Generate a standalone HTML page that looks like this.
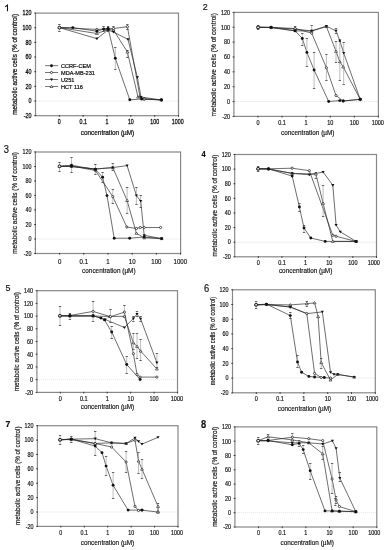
<!DOCTYPE html>
<html><head><meta charset="utf-8"><style>
html,body{margin:0;padding:0;background:#fff;width:388px;height:550px;overflow:hidden}
svg{display:block;will-change:transform}
text{font-family:"Liberation Sans", sans-serif;fill:#111;stroke:#111;stroke-width:var(--tw,0.1px)}
</style></head><body>
<svg width="388" height="550" viewBox="0 0 388 550">
<rect width="388" height="550" fill="#fff"/>
<g style="--tw:0.22px"><line x1="35.5" y1="101.04" x2="178.5" y2="101.04" stroke="#d4d4d4" stroke-width="0.6" stroke-dasharray="1.2 0.8"/>
<rect x="35.5" y="13.1" width="143" height="102.6" fill="none" stroke="#888" stroke-width="1.2"/>
<line x1="34.2" y1="115.7" x2="36.1" y2="115.7" stroke="#222" stroke-width="0.8"/>
<text transform="translate(31.6 118) scale(1 1.2)" font-size="5.4" text-anchor="end">-20</text>
<line x1="34.2" y1="101.04" x2="36.1" y2="101.04" stroke="#222" stroke-width="0.8"/>
<text transform="translate(31.6 103.34) scale(1 1.2)" font-size="5.4" text-anchor="end">0</text>
<line x1="34.2" y1="86.39" x2="36.1" y2="86.39" stroke="#222" stroke-width="0.8"/>
<text transform="translate(31.6 88.69) scale(1 1.2)" font-size="5.4" text-anchor="end">20</text>
<line x1="34.2" y1="71.73" x2="36.1" y2="71.73" stroke="#222" stroke-width="0.8"/>
<text transform="translate(31.6 74.03) scale(1 1.2)" font-size="5.4" text-anchor="end">40</text>
<line x1="34.2" y1="57.07" x2="36.1" y2="57.07" stroke="#222" stroke-width="0.8"/>
<text transform="translate(31.6 59.37) scale(1 1.2)" font-size="5.4" text-anchor="end">60</text>
<line x1="34.2" y1="42.41" x2="36.1" y2="42.41" stroke="#222" stroke-width="0.8"/>
<text transform="translate(31.6 44.71) scale(1 1.2)" font-size="5.4" text-anchor="end">80</text>
<line x1="34.2" y1="27.76" x2="36.1" y2="27.76" stroke="#222" stroke-width="0.8"/>
<text transform="translate(31.6 30.06) scale(1 1.2)" font-size="5.4" text-anchor="end">100</text>
<line x1="34.2" y1="13.1" x2="36.1" y2="13.1" stroke="#222" stroke-width="0.8"/>
<text transform="translate(31.6 15.4) scale(1 1.2)" font-size="5.4" text-anchor="end">120</text>
<line x1="59.33" y1="115.1" x2="59.33" y2="116.9" stroke="#222" stroke-width="0.8"/>
<text transform="translate(59.33 124) scale(1 1.2)" font-size="5.3" text-anchor="middle">0</text>
<line x1="83.17" y1="115.1" x2="83.17" y2="116.9" stroke="#222" stroke-width="0.8"/>
<text transform="translate(83.17 124) scale(1 1.2)" font-size="5.3" text-anchor="middle">0.1</text>
<line x1="107" y1="115.1" x2="107" y2="116.9" stroke="#222" stroke-width="0.8"/>
<text transform="translate(107 124) scale(1 1.2)" font-size="5.3" text-anchor="middle">1</text>
<line x1="130.83" y1="115.1" x2="130.83" y2="116.9" stroke="#222" stroke-width="0.8"/>
<text transform="translate(130.83 124) scale(1 1.2)" font-size="5.3" text-anchor="middle">10</text>
<line x1="154.67" y1="115.1" x2="154.67" y2="116.9" stroke="#222" stroke-width="0.8"/>
<text transform="translate(154.67 124) scale(1 1.2)" font-size="5.3" text-anchor="middle">100</text>
<line x1="178.5" y1="115.1" x2="178.5" y2="116.9" stroke="#222" stroke-width="0.8"/>
<text transform="translate(177.7 124) scale(1 1.2)" font-size="5.3" text-anchor="middle">1000</text>
<text transform="translate(107.5 135) scale(1 1.08)" font-size="6.4" text-anchor="middle">concentration (µM)</text>
<text transform="translate(17 64.4) rotate(-90) scale(1 1.15)" font-size="6.45" text-anchor="middle">metabolic active cells (% of control)</text>
<path d="M5.1 6.9L7.5 5.0V11.3" fill="none" stroke="#111" stroke-width="1.05"/>
<polyline points="59.4,27.6 72.8,27.6 96.9,31.2 103.6,29.1 108.1,28.5 115.3,58.3 129.8,99.8 141.5,99 161.4,99.8" fill="none" stroke="#2a2a2a" stroke-width="0.68" stroke-linejoin="round"/>
<polyline points="59.4,27.6 96.9,29.4 103.9,29.2 108,28.8 113.5,28.5 127.4,26.7 140,97 144.2,99 161.4,99.8" fill="none" stroke="#2a2a2a" stroke-width="0.68" stroke-linejoin="round"/>
<polyline points="59.4,27.6 96.9,38.7 108,30 113.5,32.1 128,39.4 137.4,77.3 141,97 161.4,100" fill="none" stroke="#2a2a2a" stroke-width="0.68" stroke-linejoin="round"/>
<polyline points="59.4,27.6 96.9,33.5 108,29.5 113.5,30 127.4,52 138,97 144,99 161.4,100" fill="none" stroke="#2a2a2a" stroke-width="0.68" stroke-linejoin="round"/>
<path d="M115.3 47.5V69.2" stroke="#999" stroke-width="0.65" fill="none"/><path d="M114.1 47.5H116.5M114.1 69.5H116.5" stroke="#444" stroke-width="0.8" fill="none"/>
<path d="M127.4 24.5V29" stroke="#999" stroke-width="0.65" fill="none"/><path d="M126.2 24.5H128.6M126.2 29.5H128.6" stroke="#444" stroke-width="0.8" fill="none"/>
<path d="M127.4 50V57.4" stroke="#999" stroke-width="0.65" fill="none"/><path d="M126.2 50.5H128.6M126.2 57.5H128.6" stroke="#444" stroke-width="0.8" fill="none"/>
<path d="M103.6 26.5V31" stroke="#999" stroke-width="0.65" fill="none"/><path d="M102.4 26.5H104.8M102.4 31.5H104.8" stroke="#444" stroke-width="0.8" fill="none"/>
<path d="M108.1 26V31" stroke="#999" stroke-width="0.65" fill="none"/><path d="M106.9 26.5H109.3M106.9 31.5H109.3" stroke="#444" stroke-width="0.8" fill="none"/>
<path d="M113.5 26V30" stroke="#999" stroke-width="0.65" fill="none"/><path d="M112.3 26.5H114.7M112.3 30.5H114.7" stroke="#444" stroke-width="0.8" fill="none"/>
<path d="M59.4 24.2V31.3" stroke="#999" stroke-width="0.65" fill="none"/><path d="M58.2 24.5H60.6M58.2 31.5H60.6" stroke="#444" stroke-width="0.8" fill="none"/>
<path d="M57.95 28.62H60.85L59.4 26.3Z" fill="#fff" stroke="#111" stroke-width="0.6"/>
<path d="M95.45 34.52H98.35L96.9 32.2Z" fill="#fff" stroke="#111" stroke-width="0.6"/>
<path d="M106.55 30.52H109.45L108 28.2Z" fill="#fff" stroke="#111" stroke-width="0.6"/>
<path d="M112.05 31.02H114.95L113.5 28.7Z" fill="#fff" stroke="#111" stroke-width="0.6"/>
<path d="M125.95 53.02H128.85L127.4 50.7Z" fill="#fff" stroke="#111" stroke-width="0.6"/>
<path d="M136.55 98.02H139.45L138 95.69Z" fill="#fff" stroke="#111" stroke-width="0.6"/>
<path d="M142.55 100.02H145.45L144 97.69Z" fill="#fff" stroke="#111" stroke-width="0.6"/>
<path d="M159.95 101.02H162.85L161.4 98.69Z" fill="#fff" stroke="#111" stroke-width="0.6"/>
<circle cx="59.4" cy="27.6" r="1.1" fill="#fff" stroke="#111" stroke-width="0.7"/>
<circle cx="96.9" cy="29.4" r="1.1" fill="#fff" stroke="#111" stroke-width="0.7"/>
<circle cx="103.9" cy="29.2" r="1.1" fill="#fff" stroke="#111" stroke-width="0.7"/>
<circle cx="108" cy="28.8" r="1.1" fill="#fff" stroke="#111" stroke-width="0.7"/>
<circle cx="113.5" cy="28.5" r="1.1" fill="#fff" stroke="#111" stroke-width="0.7"/>
<circle cx="127.4" cy="26.7" r="1.1" fill="#fff" stroke="#111" stroke-width="0.7"/>
<circle cx="140" cy="97" r="1.1" fill="#fff" stroke="#111" stroke-width="0.7"/>
<circle cx="144.2" cy="99" r="1.1" fill="#fff" stroke="#111" stroke-width="0.7"/>
<circle cx="161.4" cy="99.8" r="1.1" fill="#fff" stroke="#111" stroke-width="0.7"/>
<path d="M57.8 26.48H60.99L59.4 29.04Z" fill="#111"/>
<path d="M95.31 37.58H98.5L96.9 40.14Z" fill="#111"/>
<path d="M106.41 28.88H109.59L108 31.44Z" fill="#111"/>
<path d="M111.91 30.98H115.09L113.5 33.54Z" fill="#111"/>
<path d="M126.41 38.28H129.59L128 40.84Z" fill="#111"/>
<path d="M135.81 76.18H139L137.4 78.74Z" fill="#111"/>
<path d="M139.41 95.88H142.59L141 98.44Z" fill="#111"/>
<path d="M159.81 98.88H163L161.4 101.44Z" fill="#111"/>
<circle cx="59.4" cy="27.6" r="1.45" fill="#111"/>
<circle cx="72.8" cy="27.6" r="1.45" fill="#111"/>
<circle cx="96.9" cy="31.2" r="1.45" fill="#111"/>
<circle cx="103.6" cy="29.1" r="1.45" fill="#111"/>
<circle cx="108.1" cy="28.5" r="1.45" fill="#111"/>
<circle cx="115.3" cy="58.3" r="1.45" fill="#111"/>
<circle cx="129.8" cy="99.8" r="1.45" fill="#111"/>
<circle cx="141.5" cy="99" r="1.45" fill="#111"/>
<circle cx="161.4" cy="99.8" r="1.45" fill="#111"/>
<circle cx="59.4" cy="27.6" r="1.35" fill="#fff" stroke="#222" stroke-width="0.95"/>
<line x1="45" y1="65.7" x2="58.1" y2="65.7" stroke="#666" stroke-width="0.9"/>
<circle cx="51.5" cy="65.7" r="1.45" fill="#111"/>
<text transform="translate(61 67.8) scale(1 1.12)" font-size="5.6">CCRF-CEM</text>
<line x1="45" y1="72.5" x2="58.1" y2="72.5" stroke="#666" stroke-width="0.9"/>
<circle cx="51.5" cy="72.5" r="1.1" fill="#fff" stroke="#111" stroke-width="0.7"/>
<text transform="translate(61 74.6) scale(1 1.12)" font-size="5.6">MDA-MB-231</text>
<line x1="45" y1="79.5" x2="58.1" y2="79.5" stroke="#666" stroke-width="0.9"/>
<path d="M49.91 78.38H53.09L51.5 80.94Z" fill="#111"/>
<text transform="translate(61 81.6) scale(1 1.12)" font-size="5.6">U251</text>
<line x1="45" y1="86.5" x2="58.1" y2="86.5" stroke="#666" stroke-width="0.9"/>
<path d="M50.05 87.52H52.95L51.5 85.19Z" fill="#fff" stroke="#111" stroke-width="0.6"/>
<text transform="translate(61 88.6) scale(1 1.12)" font-size="5.6">HCT 116</text></g>
<g style="--tw:0.15px"><line x1="233.9" y1="101.54" x2="378.4" y2="101.54" stroke="#d4d4d4" stroke-width="0.6" stroke-dasharray="1.2 0.8"/>
<rect x="233.9" y="12.4" width="144.5" height="104" fill="none" stroke="#888" stroke-width="1.2"/>
<line x1="232.6" y1="116.4" x2="234.5" y2="116.4" stroke="#222" stroke-width="0.8"/>
<text transform="translate(230 118.7) scale(1 1.2)" font-size="5.4" text-anchor="end">-20</text>
<line x1="232.6" y1="101.54" x2="234.5" y2="101.54" stroke="#222" stroke-width="0.8"/>
<text transform="translate(230 103.84) scale(1 1.2)" font-size="5.4" text-anchor="end">0</text>
<line x1="232.6" y1="86.69" x2="234.5" y2="86.69" stroke="#222" stroke-width="0.8"/>
<text transform="translate(230 88.99) scale(1 1.2)" font-size="5.4" text-anchor="end">20</text>
<line x1="232.6" y1="71.83" x2="234.5" y2="71.83" stroke="#222" stroke-width="0.8"/>
<text transform="translate(230 74.13) scale(1 1.2)" font-size="5.4" text-anchor="end">40</text>
<line x1="232.6" y1="56.97" x2="234.5" y2="56.97" stroke="#222" stroke-width="0.8"/>
<text transform="translate(230 59.27) scale(1 1.2)" font-size="5.4" text-anchor="end">60</text>
<line x1="232.6" y1="42.11" x2="234.5" y2="42.11" stroke="#222" stroke-width="0.8"/>
<text transform="translate(230 44.41) scale(1 1.2)" font-size="5.4" text-anchor="end">80</text>
<line x1="232.6" y1="27.26" x2="234.5" y2="27.26" stroke="#222" stroke-width="0.8"/>
<text transform="translate(230 29.56) scale(1 1.2)" font-size="5.4" text-anchor="end">100</text>
<line x1="232.6" y1="12.4" x2="234.5" y2="12.4" stroke="#222" stroke-width="0.8"/>
<text transform="translate(230 14.7) scale(1 1.2)" font-size="5.4" text-anchor="end">120</text>
<line x1="257.98" y1="115.8" x2="257.98" y2="117.6" stroke="#222" stroke-width="0.8"/>
<text transform="translate(257.98 125.3) scale(1 1.2)" font-size="5.5" text-anchor="middle">0</text>
<line x1="282.07" y1="115.8" x2="282.07" y2="117.6" stroke="#222" stroke-width="0.8"/>
<text transform="translate(282.07 125.3) scale(1 1.2)" font-size="5.5" text-anchor="middle">0.1</text>
<line x1="306.15" y1="115.8" x2="306.15" y2="117.6" stroke="#222" stroke-width="0.8"/>
<text transform="translate(306.15 125.3) scale(1 1.2)" font-size="5.5" text-anchor="middle">1</text>
<line x1="330.23" y1="115.8" x2="330.23" y2="117.6" stroke="#222" stroke-width="0.8"/>
<text transform="translate(330.23 125.3) scale(1 1.2)" font-size="5.5" text-anchor="middle">10</text>
<line x1="354.32" y1="115.8" x2="354.32" y2="117.6" stroke="#222" stroke-width="0.8"/>
<text transform="translate(354.32 125.3) scale(1 1.2)" font-size="5.5" text-anchor="middle">100</text>
<line x1="378.4" y1="115.8" x2="378.4" y2="117.6" stroke="#222" stroke-width="0.8"/>
<text transform="translate(377.8 125.3) scale(1 1.2)" font-size="5.5" text-anchor="middle">1000</text>
<text transform="translate(307.7 135.3) scale(1 1.08)" font-size="6.4" text-anchor="middle">concentration (µM)</text>
<text transform="translate(216.4 64.7) rotate(-90) scale(1 1.15)" font-size="6.6" text-anchor="middle">metabolic active cells (% of control)</text>
<text transform="translate(202.8 10) scale(1 1.1)" font-size="9">2</text>
<polyline points="258.1,27.3 271.1,27.3 295.1,30.9 302.3,38.5 306.9,52.4 314.1,70 328.7,101.5 339.8,100.6 343.2,101 360.2,99.3" fill="none" stroke="#2a2a2a" stroke-width="0.68" stroke-linejoin="round"/>
<polyline points="258.1,27.3 271.1,27.5 295.1,28.5 311.7,33.2 326.4,67.8 336,95.5 343.2,101 360.2,99.3" fill="none" stroke="#2a2a2a" stroke-width="0.68" stroke-linejoin="round"/>
<polyline points="258.1,27.3 271.1,27.5 295.1,30.9 311.7,30.9 326.4,26.2 336,30.9 339.8,40.6 343.7,53 360.2,99.3" fill="none" stroke="#2a2a2a" stroke-width="0.68" stroke-linejoin="round"/>
<polyline points="258.1,27.3 271.1,27.5 295.1,29 311.7,31 326.4,26.5 336,51.3 339.8,61.7 343.2,66.9 360.2,99.3" fill="none" stroke="#2a2a2a" stroke-width="0.68" stroke-linejoin="round"/>
<path d="M302.3 33V45.7" stroke="#999" stroke-width="0.65" fill="none"/><path d="M301.1 33.5H303.5M301.1 45.5H303.5" stroke="#444" stroke-width="0.8" fill="none"/>
<path d="M306.9 38.5V66.4" stroke="#999" stroke-width="0.65" fill="none"/><path d="M305.7 38.5H308.1M305.7 66.5H308.1" stroke="#444" stroke-width="0.8" fill="none"/>
<path d="M314.1 52V88.1" stroke="#999" stroke-width="0.65" fill="none"/><path d="M312.9 52.5H315.3M312.9 88.5H315.3" stroke="#444" stroke-width="0.8" fill="none"/>
<path d="M326.4 54.8V80.7" stroke="#999" stroke-width="0.65" fill="none"/><path d="M325.2 54.5H327.6M325.2 80.5H327.6" stroke="#444" stroke-width="0.8" fill="none"/>
<path d="M311.7 25.7V31" stroke="#999" stroke-width="0.65" fill="none"/><path d="M310.5 25.5H312.9M310.5 31.5H312.9" stroke="#444" stroke-width="0.8" fill="none"/>
<path d="M336 28V33" stroke="#999" stroke-width="0.65" fill="none"/><path d="M334.8 28.5H337.2M334.8 33.5H337.2" stroke="#444" stroke-width="0.8" fill="none"/>
<path d="M343.7 42.7V84.2" stroke="#999" stroke-width="0.65" fill="none"/><path d="M342.5 42.5H344.9M342.5 84.5H344.9" stroke="#444" stroke-width="0.8" fill="none"/>
<path d="M336 41V62.6" stroke="#999" stroke-width="0.65" fill="none"/><path d="M334.8 41.5H337.2M334.8 62.5H337.2" stroke="#444" stroke-width="0.8" fill="none"/>
<path d="M339.8 41V80.7" stroke="#999" stroke-width="0.65" fill="none"/><path d="M338.6 41.5H341M338.6 80.5H341" stroke="#444" stroke-width="0.8" fill="none"/>
<path d="M295.1 26V31" stroke="#999" stroke-width="0.65" fill="none"/><path d="M293.9 26.5H296.3M293.9 31.5H296.3" stroke="#444" stroke-width="0.8" fill="none"/>
<path d="M258.1 25V29.5" stroke="#999" stroke-width="0.65" fill="none"/><path d="M256.9 25.5H259.3M256.9 29.5H259.3" stroke="#444" stroke-width="0.8" fill="none"/>
<path d="M256.65 28.32H259.55L258.1 26Z" fill="#fff" stroke="#111" stroke-width="0.6"/>
<path d="M269.65 28.52H272.55L271.1 26.2Z" fill="#fff" stroke="#111" stroke-width="0.6"/>
<path d="M293.65 30.02H296.55L295.1 27.7Z" fill="#fff" stroke="#111" stroke-width="0.6"/>
<path d="M310.25 32.02H313.15L311.7 29.7Z" fill="#fff" stroke="#111" stroke-width="0.6"/>
<path d="M324.95 27.52H327.85L326.4 25.2Z" fill="#fff" stroke="#111" stroke-width="0.6"/>
<path d="M334.55 52.31H337.45L336 49.99Z" fill="#fff" stroke="#111" stroke-width="0.6"/>
<path d="M338.35 62.72H341.25L339.8 60.4Z" fill="#fff" stroke="#111" stroke-width="0.6"/>
<path d="M341.75 67.92H344.65L343.2 65.59Z" fill="#fff" stroke="#111" stroke-width="0.6"/>
<path d="M358.75 100.31H361.65L360.2 97.99Z" fill="#fff" stroke="#111" stroke-width="0.6"/>
<circle cx="258.1" cy="27.3" r="1.1" fill="#fff" stroke="#111" stroke-width="0.7"/>
<circle cx="271.1" cy="27.5" r="1.1" fill="#fff" stroke="#111" stroke-width="0.7"/>
<circle cx="295.1" cy="28.5" r="1.1" fill="#fff" stroke="#111" stroke-width="0.7"/>
<circle cx="311.7" cy="33.2" r="1.1" fill="#fff" stroke="#111" stroke-width="0.7"/>
<circle cx="326.4" cy="67.8" r="1.1" fill="#fff" stroke="#111" stroke-width="0.7"/>
<circle cx="336" cy="95.5" r="1.1" fill="#fff" stroke="#111" stroke-width="0.7"/>
<circle cx="343.2" cy="101" r="1.1" fill="#fff" stroke="#111" stroke-width="0.7"/>
<circle cx="360.2" cy="99.3" r="1.1" fill="#fff" stroke="#111" stroke-width="0.7"/>
<path d="M256.5 26.18H259.7L258.1 28.74Z" fill="#111"/>
<path d="M269.5 26.38H272.7L271.1 28.94Z" fill="#111"/>
<path d="M293.5 29.78H296.7L295.1 32.34Z" fill="#111"/>
<path d="M310.1 29.78H313.3L311.7 32.34Z" fill="#111"/>
<path d="M324.8 25.08H328L326.4 27.64Z" fill="#111"/>
<path d="M334.4 29.78H337.6L336 32.34Z" fill="#111"/>
<path d="M338.2 39.48H341.4L339.8 42.04Z" fill="#111"/>
<path d="M342.1 51.88H345.3L343.7 54.44Z" fill="#111"/>
<path d="M358.6 98.18H361.8L360.2 100.74Z" fill="#111"/>
<circle cx="258.1" cy="27.3" r="1.45" fill="#111"/>
<circle cx="271.1" cy="27.3" r="1.45" fill="#111"/>
<circle cx="295.1" cy="30.9" r="1.45" fill="#111"/>
<circle cx="302.3" cy="38.5" r="1.45" fill="#111"/>
<circle cx="306.9" cy="52.4" r="1.45" fill="#111"/>
<circle cx="314.1" cy="70" r="1.45" fill="#111"/>
<circle cx="328.7" cy="101.5" r="1.45" fill="#111"/>
<circle cx="339.8" cy="100.6" r="1.45" fill="#111"/>
<circle cx="343.2" cy="101" r="1.45" fill="#111"/>
<circle cx="360.2" cy="99.3" r="1.45" fill="#111"/>
<circle cx="258.1" cy="27.3" r="1.35" fill="#fff" stroke="#222" stroke-width="0.95"/></g>
<g style="--tw:0.15px"><line x1="35.4" y1="239" x2="180.6" y2="239" stroke="#d4d4d4" stroke-width="0.6" stroke-dasharray="1.2 0.8"/>
<rect x="35.4" y="152" width="145.2" height="101.5" fill="none" stroke="#888" stroke-width="1.2"/>
<line x1="34.1" y1="253.5" x2="36" y2="253.5" stroke="#222" stroke-width="0.8"/>
<text transform="translate(31.5 255.8) scale(1 1.2)" font-size="5.4" text-anchor="end">-20</text>
<line x1="34.1" y1="239" x2="36" y2="239" stroke="#222" stroke-width="0.8"/>
<text transform="translate(31.5 241.3) scale(1 1.2)" font-size="5.4" text-anchor="end">0</text>
<line x1="34.1" y1="224.5" x2="36" y2="224.5" stroke="#222" stroke-width="0.8"/>
<text transform="translate(31.5 226.8) scale(1 1.2)" font-size="5.4" text-anchor="end">20</text>
<line x1="34.1" y1="210" x2="36" y2="210" stroke="#222" stroke-width="0.8"/>
<text transform="translate(31.5 212.3) scale(1 1.2)" font-size="5.4" text-anchor="end">40</text>
<line x1="34.1" y1="195.5" x2="36" y2="195.5" stroke="#222" stroke-width="0.8"/>
<text transform="translate(31.5 197.8) scale(1 1.2)" font-size="5.4" text-anchor="end">60</text>
<line x1="34.1" y1="181" x2="36" y2="181" stroke="#222" stroke-width="0.8"/>
<text transform="translate(31.5 183.3) scale(1 1.2)" font-size="5.4" text-anchor="end">80</text>
<line x1="34.1" y1="166.5" x2="36" y2="166.5" stroke="#222" stroke-width="0.8"/>
<text transform="translate(31.5 168.8) scale(1 1.2)" font-size="5.4" text-anchor="end">100</text>
<line x1="34.1" y1="152" x2="36" y2="152" stroke="#222" stroke-width="0.8"/>
<text transform="translate(31.5 154.3) scale(1 1.2)" font-size="5.4" text-anchor="end">120</text>
<line x1="59.6" y1="252.9" x2="59.6" y2="254.7" stroke="#222" stroke-width="0.8"/>
<text transform="translate(59.6 263.9) scale(1 1.2)" font-size="6.1" text-anchor="middle">0</text>
<line x1="83.8" y1="252.9" x2="83.8" y2="254.7" stroke="#222" stroke-width="0.8"/>
<text transform="translate(83.8 263.9) scale(1 1.2)" font-size="6.1" text-anchor="middle">0.1</text>
<line x1="108" y1="252.9" x2="108" y2="254.7" stroke="#222" stroke-width="0.8"/>
<text transform="translate(108 263.9) scale(1 1.2)" font-size="6.1" text-anchor="middle">1</text>
<line x1="132.2" y1="252.9" x2="132.2" y2="254.7" stroke="#222" stroke-width="0.8"/>
<text transform="translate(132.2 263.9) scale(1 1.2)" font-size="6.1" text-anchor="middle">10</text>
<line x1="156.4" y1="252.9" x2="156.4" y2="254.7" stroke="#222" stroke-width="0.8"/>
<text transform="translate(156.4 263.9) scale(1 1.2)" font-size="6.1" text-anchor="middle">100</text>
<line x1="180.6" y1="252.9" x2="180.6" y2="254.7" stroke="#222" stroke-width="0.8"/>
<text transform="translate(180.3 263.9) scale(1 1.2)" font-size="6.1" text-anchor="middle">1000</text>
<text transform="translate(108.8 273) scale(1 1.08)" font-size="6.4" text-anchor="middle">concentration (µM)</text>
<text transform="translate(16.9 202.9) rotate(-90) scale(1 1.15)" font-size="6.5" text-anchor="middle">metabolic active cells (% of control)</text>
<text transform="translate(3.8 152.6) scale(1 1.1)" font-size="9.3">3</text>
<polyline points="59.5,166.3 71.5,165.2 95.4,169.5 102.6,177.2 107,195.6 114.2,238.2 129.7,238.2 144.2,237 161.6,238.6" fill="none" stroke="#2a2a2a" stroke-width="0.68" stroke-linejoin="round"/>
<polyline points="59.5,166.3 71.5,166 95.4,170.5 112.8,196.6 126.8,227 136.4,228.5 140.3,227.5 144.2,227.5 160.6,227.5" fill="none" stroke="#2a2a2a" stroke-width="0.68" stroke-linejoin="round"/>
<polyline points="59.5,166.3 71.5,166.5 95.4,169 112.8,167.6 127.1,200.5 136.4,233.3 144.2,237.8 161.6,238.6" fill="none" stroke="#2a2a2a" stroke-width="0.68" stroke-linejoin="round"/>
<polyline points="59.5,166.3 71.5,166.5 95.4,169 112.8,167.6 127.1,165.6 136.4,195.6 140.7,201 144.2,235.3 161.6,238.6" fill="none" stroke="#2a2a2a" stroke-width="0.68" stroke-linejoin="round"/>
<path d="M71.5 157.6V172.7" stroke="#999" stroke-width="0.65" fill="none"/><path d="M70.3 157.5H72.7M70.3 172.5H72.7" stroke="#444" stroke-width="0.8" fill="none"/>
<path d="M102.6 172.4V182" stroke="#999" stroke-width="0.65" fill="none"/><path d="M101.4 172.5H103.8M101.4 182.5H103.8" stroke="#444" stroke-width="0.8" fill="none"/>
<path d="M112.8 189.8V203.4" stroke="#999" stroke-width="0.65" fill="none"/><path d="M111.6 189.5H114M111.6 203.5H114" stroke="#444" stroke-width="0.8" fill="none"/>
<path d="M112.8 163.7V170.5" stroke="#999" stroke-width="0.65" fill="none"/><path d="M111.6 163.5H114M111.6 170.5H114" stroke="#444" stroke-width="0.8" fill="none"/>
<path d="M127.1 187V213" stroke="#999" stroke-width="0.65" fill="none"/><path d="M125.9 187.5H128.3M125.9 213.5H128.3" stroke="#444" stroke-width="0.8" fill="none"/>
<path d="M136.4 187V204.3" stroke="#999" stroke-width="0.65" fill="none"/><path d="M135.2 187.5H137.6M135.2 204.5H137.6" stroke="#444" stroke-width="0.8" fill="none"/>
<path d="M140.7 195.6V207.2" stroke="#999" stroke-width="0.65" fill="none"/><path d="M139.5 195.5H141.9M139.5 207.5H141.9" stroke="#444" stroke-width="0.8" fill="none"/>
<path d="M95.4 164V174" stroke="#999" stroke-width="0.65" fill="none"/><path d="M94.2 164.5H96.6M94.2 174.5H96.6" stroke="#444" stroke-width="0.8" fill="none"/>
<path d="M59.5 162V171" stroke="#999" stroke-width="0.65" fill="none"/><path d="M58.3 162.5H60.7M58.3 171.5H60.7" stroke="#444" stroke-width="0.8" fill="none"/>
<path d="M58.05 167.31H60.95L59.5 165Z" fill="#fff" stroke="#111" stroke-width="0.6"/>
<path d="M70.05 167.51H72.95L71.5 165.19Z" fill="#fff" stroke="#111" stroke-width="0.6"/>
<path d="M93.95 170.01H96.85L95.4 167.69Z" fill="#fff" stroke="#111" stroke-width="0.6"/>
<path d="M111.35 168.61H114.25L112.8 166.29Z" fill="#fff" stroke="#111" stroke-width="0.6"/>
<path d="M125.65 201.51H128.55L127.1 199.19Z" fill="#fff" stroke="#111" stroke-width="0.6"/>
<path d="M134.95 234.31H137.85L136.4 232Z" fill="#fff" stroke="#111" stroke-width="0.6"/>
<path d="M142.75 238.81H145.65L144.2 236.5Z" fill="#fff" stroke="#111" stroke-width="0.6"/>
<path d="M160.15 239.61H163.05L161.6 237.29Z" fill="#fff" stroke="#111" stroke-width="0.6"/>
<circle cx="59.5" cy="166.3" r="1.1" fill="#fff" stroke="#111" stroke-width="0.7"/>
<circle cx="71.5" cy="166" r="1.1" fill="#fff" stroke="#111" stroke-width="0.7"/>
<circle cx="95.4" cy="170.5" r="1.1" fill="#fff" stroke="#111" stroke-width="0.7"/>
<circle cx="112.8" cy="196.6" r="1.1" fill="#fff" stroke="#111" stroke-width="0.7"/>
<circle cx="126.8" cy="227" r="1.1" fill="#fff" stroke="#111" stroke-width="0.7"/>
<circle cx="136.4" cy="228.5" r="1.1" fill="#fff" stroke="#111" stroke-width="0.7"/>
<circle cx="140.3" cy="227.5" r="1.1" fill="#fff" stroke="#111" stroke-width="0.7"/>
<circle cx="144.2" cy="227.5" r="1.1" fill="#fff" stroke="#111" stroke-width="0.7"/>
<circle cx="160.6" cy="227.5" r="1.1" fill="#fff" stroke="#111" stroke-width="0.7"/>
<path d="M57.91 165.18H61.09L59.5 167.74Z" fill="#111"/>
<path d="M69.91 165.38H73.09L71.5 167.94Z" fill="#111"/>
<path d="M93.81 167.88H97L95.4 170.44Z" fill="#111"/>
<path d="M111.2 166.48H114.39L112.8 169.04Z" fill="#111"/>
<path d="M125.5 164.48H128.69L127.1 167.04Z" fill="#111"/>
<path d="M134.81 194.48H138L136.4 197.04Z" fill="#111"/>
<path d="M139.1 199.88H142.29L140.7 202.44Z" fill="#111"/>
<path d="M142.6 234.18H145.79L144.2 236.74Z" fill="#111"/>
<path d="M160 237.48H163.19L161.6 240.04Z" fill="#111"/>
<circle cx="59.5" cy="166.3" r="1.45" fill="#111"/>
<circle cx="71.5" cy="165.2" r="1.45" fill="#111"/>
<circle cx="95.4" cy="169.5" r="1.45" fill="#111"/>
<circle cx="102.6" cy="177.2" r="1.45" fill="#111"/>
<circle cx="107" cy="195.6" r="1.45" fill="#111"/>
<circle cx="114.2" cy="238.2" r="1.45" fill="#111"/>
<circle cx="129.7" cy="238.2" r="1.45" fill="#111"/>
<circle cx="144.2" cy="237" r="1.45" fill="#111"/>
<circle cx="161.6" cy="238.6" r="1.45" fill="#111"/>
<circle cx="59.5" cy="166.3" r="1.35" fill="#fff" stroke="#222" stroke-width="0.95"/></g>
<g style="--tw:0.15px"><line x1="234.7" y1="242.19" x2="376.5" y2="242.19" stroke="#d4d4d4" stroke-width="0.6" stroke-dasharray="1.2 0.8"/>
<rect x="234.7" y="154.5" width="141.8" height="102.3" fill="none" stroke="#888" stroke-width="1.2"/>
<line x1="233.4" y1="256.8" x2="235.3" y2="256.8" stroke="#222" stroke-width="0.8"/>
<text transform="translate(230.8 259.1) scale(1 1.2)" font-size="5.4" text-anchor="end">-20</text>
<line x1="233.4" y1="242.19" x2="235.3" y2="242.19" stroke="#222" stroke-width="0.8"/>
<text transform="translate(230.8 244.49) scale(1 1.2)" font-size="5.4" text-anchor="end">0</text>
<line x1="233.4" y1="227.57" x2="235.3" y2="227.57" stroke="#222" stroke-width="0.8"/>
<text transform="translate(230.8 229.87) scale(1 1.2)" font-size="5.4" text-anchor="end">20</text>
<line x1="233.4" y1="212.96" x2="235.3" y2="212.96" stroke="#222" stroke-width="0.8"/>
<text transform="translate(230.8 215.26) scale(1 1.2)" font-size="5.4" text-anchor="end">40</text>
<line x1="233.4" y1="198.34" x2="235.3" y2="198.34" stroke="#222" stroke-width="0.8"/>
<text transform="translate(230.8 200.64) scale(1 1.2)" font-size="5.4" text-anchor="end">60</text>
<line x1="233.4" y1="183.73" x2="235.3" y2="183.73" stroke="#222" stroke-width="0.8"/>
<text transform="translate(230.8 186.03) scale(1 1.2)" font-size="5.4" text-anchor="end">80</text>
<line x1="233.4" y1="169.11" x2="235.3" y2="169.11" stroke="#222" stroke-width="0.8"/>
<text transform="translate(230.8 171.41) scale(1 1.2)" font-size="5.4" text-anchor="end">100</text>
<line x1="233.4" y1="154.5" x2="235.3" y2="154.5" stroke="#222" stroke-width="0.8"/>
<text transform="translate(230.8 156.8) scale(1 1.2)" font-size="5.4" text-anchor="end">120</text>
<line x1="258.33" y1="256.2" x2="258.33" y2="258" stroke="#222" stroke-width="0.8"/>
<text transform="translate(258.33 264.8) scale(1 1.2)" font-size="5.5" text-anchor="middle">0</text>
<line x1="281.97" y1="256.2" x2="281.97" y2="258" stroke="#222" stroke-width="0.8"/>
<text transform="translate(281.97 264.8) scale(1 1.2)" font-size="5.5" text-anchor="middle">0.1</text>
<line x1="305.6" y1="256.2" x2="305.6" y2="258" stroke="#222" stroke-width="0.8"/>
<text transform="translate(305.6 264.8) scale(1 1.2)" font-size="5.5" text-anchor="middle">1</text>
<line x1="329.23" y1="256.2" x2="329.23" y2="258" stroke="#222" stroke-width="0.8"/>
<text transform="translate(329.23 264.8) scale(1 1.2)" font-size="5.5" text-anchor="middle">10</text>
<line x1="352.87" y1="256.2" x2="352.87" y2="258" stroke="#222" stroke-width="0.8"/>
<text transform="translate(352.87 264.8) scale(1 1.2)" font-size="5.5" text-anchor="middle">100</text>
<line x1="376.5" y1="256.2" x2="376.5" y2="258" stroke="#222" stroke-width="0.8"/>
<text transform="translate(373.8 264.8) scale(1 1.2)" font-size="5.5" text-anchor="middle">1000</text>
<text transform="translate(305.6 273.2) scale(1 1.08)" font-size="6.4" text-anchor="middle">concentration (µM)</text>
<text transform="translate(217 205.5) rotate(-90) scale(1 1.15)" font-size="6.5" text-anchor="middle">metabolic active cells (% of control)</text>
<text transform="translate(201.6 156.7) scale(1 1.1)" font-size="7.6" font-weight="bold">4</text>
<polyline points="258.1,168.8 268.5,168.8 292.2,176.1 299.4,207 304,228 310.8,238 325.2,241.4 356.1,241.4" fill="none" stroke="#2a2a2a" stroke-width="0.68" stroke-linejoin="round"/>
<polyline points="258.1,168.8 268.5,168.8 292.2,168.2 309.3,170.7 332.8,235.3 336.1,236.3 356.1,241.4" fill="none" stroke="#2a2a2a" stroke-width="0.68" stroke-linejoin="round"/>
<polyline points="258.1,168.8 268.5,169 292.2,173.4 309.3,174.8 323.1,172 332.8,185.2 336.1,225 340.3,231.8 356.1,241.4" fill="none" stroke="#2a2a2a" stroke-width="0.68" stroke-linejoin="round"/>
<polyline points="258.1,168.8 268.5,169 292.2,173.4 315.9,174 323.1,203.3 332.8,241.4 356.1,241.4" fill="none" stroke="#2a2a2a" stroke-width="0.68" stroke-linejoin="round"/>
<path d="M299.4 203.3V211.5" stroke="#999" stroke-width="0.65" fill="none"/><path d="M298.2 203.5H300.6M298.2 211.5H300.6" stroke="#444" stroke-width="0.8" fill="none"/>
<path d="M304 225V232" stroke="#999" stroke-width="0.65" fill="none"/><path d="M302.8 225.5H305.2M302.8 232.5H305.2" stroke="#444" stroke-width="0.8" fill="none"/>
<path d="M323.1 185.8V216.7" stroke="#999" stroke-width="0.65" fill="none"/><path d="M321.9 185.5H324.3M321.9 216.5H324.3" stroke="#444" stroke-width="0.8" fill="none"/>
<path d="M315.9 172V178" stroke="#999" stroke-width="0.65" fill="none"/><path d="M314.7 172.5H317.1M314.7 178.5H317.1" stroke="#444" stroke-width="0.8" fill="none"/>
<path d="M258.1 166V171.5" stroke="#999" stroke-width="0.65" fill="none"/><path d="M256.9 166.5H259.3M256.9 171.5H259.3" stroke="#444" stroke-width="0.8" fill="none"/>
<path d="M256.65 169.81H259.55L258.1 167.5Z" fill="#fff" stroke="#111" stroke-width="0.6"/>
<path d="M267.05 170.01H269.95L268.5 167.69Z" fill="#fff" stroke="#111" stroke-width="0.6"/>
<path d="M290.75 174.41H293.65L292.2 172.09Z" fill="#fff" stroke="#111" stroke-width="0.6"/>
<path d="M314.45 175.01H317.35L315.9 172.69Z" fill="#fff" stroke="#111" stroke-width="0.6"/>
<path d="M321.65 204.31H324.55L323.1 202Z" fill="#fff" stroke="#111" stroke-width="0.6"/>
<path d="M331.35 242.41H334.25L332.8 240.09Z" fill="#fff" stroke="#111" stroke-width="0.6"/>
<path d="M354.65 242.41H357.55L356.1 240.09Z" fill="#fff" stroke="#111" stroke-width="0.6"/>
<circle cx="258.1" cy="168.8" r="1.1" fill="#fff" stroke="#111" stroke-width="0.7"/>
<circle cx="268.5" cy="168.8" r="1.1" fill="#fff" stroke="#111" stroke-width="0.7"/>
<circle cx="292.2" cy="168.2" r="1.1" fill="#fff" stroke="#111" stroke-width="0.7"/>
<circle cx="309.3" cy="170.7" r="1.1" fill="#fff" stroke="#111" stroke-width="0.7"/>
<circle cx="332.8" cy="235.3" r="1.1" fill="#fff" stroke="#111" stroke-width="0.7"/>
<circle cx="336.1" cy="236.3" r="1.1" fill="#fff" stroke="#111" stroke-width="0.7"/>
<circle cx="356.1" cy="241.4" r="1.1" fill="#fff" stroke="#111" stroke-width="0.7"/>
<path d="M256.5 167.68H259.7L258.1 170.24Z" fill="#111"/>
<path d="M266.9 167.88H270.1L268.5 170.44Z" fill="#111"/>
<path d="M290.6 172.28H293.8L292.2 174.84Z" fill="#111"/>
<path d="M307.7 173.68H310.9L309.3 176.24Z" fill="#111"/>
<path d="M321.5 170.88H324.7L323.1 173.44Z" fill="#111"/>
<path d="M331.2 184.08H334.4L332.8 186.64Z" fill="#111"/>
<path d="M334.5 223.88H337.7L336.1 226.44Z" fill="#111"/>
<path d="M338.7 230.68H341.9L340.3 233.24Z" fill="#111"/>
<path d="M354.5 240.28H357.7L356.1 242.84Z" fill="#111"/>
<circle cx="258.1" cy="168.8" r="1.45" fill="#111"/>
<circle cx="268.5" cy="168.8" r="1.45" fill="#111"/>
<circle cx="292.2" cy="176.1" r="1.45" fill="#111"/>
<circle cx="299.4" cy="207" r="1.45" fill="#111"/>
<circle cx="304" cy="228" r="1.45" fill="#111"/>
<circle cx="310.8" cy="238" r="1.45" fill="#111"/>
<circle cx="325.2" cy="241.4" r="1.45" fill="#111"/>
<circle cx="356.1" cy="241.4" r="1.45" fill="#111"/>
<circle cx="258.1" cy="168.8" r="1.35" fill="#fff" stroke="#222" stroke-width="0.95"/></g>
<g style="--tw:0.15px"><line x1="36.9" y1="379.69" x2="177.5" y2="379.69" stroke="#d4d4d4" stroke-width="0.6" stroke-dasharray="1.2 0.8"/>
<rect x="36.9" y="290.7" width="140.6" height="101.7" fill="none" stroke="#888" stroke-width="1.2"/>
<line x1="35.6" y1="392.4" x2="37.5" y2="392.4" stroke="#222" stroke-width="0.8"/>
<text transform="translate(33 394.7) scale(1 1.2)" font-size="5.4" text-anchor="end">-20</text>
<line x1="35.6" y1="379.69" x2="37.5" y2="379.69" stroke="#222" stroke-width="0.8"/>
<text transform="translate(33 381.99) scale(1 1.2)" font-size="5.4" text-anchor="end">0</text>
<line x1="35.6" y1="366.97" x2="37.5" y2="366.97" stroke="#222" stroke-width="0.8"/>
<text transform="translate(33 369.27) scale(1 1.2)" font-size="5.4" text-anchor="end">20</text>
<line x1="35.6" y1="354.26" x2="37.5" y2="354.26" stroke="#222" stroke-width="0.8"/>
<text transform="translate(33 356.56) scale(1 1.2)" font-size="5.4" text-anchor="end">40</text>
<line x1="35.6" y1="341.55" x2="37.5" y2="341.55" stroke="#222" stroke-width="0.8"/>
<text transform="translate(33 343.85) scale(1 1.2)" font-size="5.4" text-anchor="end">60</text>
<line x1="35.6" y1="328.84" x2="37.5" y2="328.84" stroke="#222" stroke-width="0.8"/>
<text transform="translate(33 331.14) scale(1 1.2)" font-size="5.4" text-anchor="end">80</text>
<line x1="35.6" y1="316.12" x2="37.5" y2="316.12" stroke="#222" stroke-width="0.8"/>
<text transform="translate(33 318.43) scale(1 1.2)" font-size="5.4" text-anchor="end">100</text>
<line x1="35.6" y1="303.41" x2="37.5" y2="303.41" stroke="#222" stroke-width="0.8"/>
<text transform="translate(33 305.71) scale(1 1.2)" font-size="5.4" text-anchor="end">120</text>
<line x1="35.6" y1="290.7" x2="37.5" y2="290.7" stroke="#222" stroke-width="0.8"/>
<text transform="translate(33 293) scale(1 1.2)" font-size="5.4" text-anchor="end">140</text>
<line x1="60.33" y1="391.8" x2="60.33" y2="393.6" stroke="#222" stroke-width="0.8"/>
<text transform="translate(60.33 400.8) scale(1 1.2)" font-size="5.55" text-anchor="middle">0</text>
<line x1="83.77" y1="391.8" x2="83.77" y2="393.6" stroke="#222" stroke-width="0.8"/>
<text transform="translate(83.77 400.8) scale(1 1.2)" font-size="5.55" text-anchor="middle">0.1</text>
<line x1="107.2" y1="391.8" x2="107.2" y2="393.6" stroke="#222" stroke-width="0.8"/>
<text transform="translate(107.2 400.8) scale(1 1.2)" font-size="5.55" text-anchor="middle">1</text>
<line x1="130.63" y1="391.8" x2="130.63" y2="393.6" stroke="#222" stroke-width="0.8"/>
<text transform="translate(130.63 400.8) scale(1 1.2)" font-size="5.55" text-anchor="middle">10</text>
<line x1="154.07" y1="391.8" x2="154.07" y2="393.6" stroke="#222" stroke-width="0.8"/>
<text transform="translate(154.07 400.8) scale(1 1.2)" font-size="5.55" text-anchor="middle">100</text>
<line x1="177.5" y1="391.8" x2="177.5" y2="393.6" stroke="#222" stroke-width="0.8"/>
<text transform="translate(176.9 400.8) scale(1 1.2)" font-size="5.55" text-anchor="middle">1000</text>
<text transform="translate(107.5 409.2) scale(1 1.08)" font-size="6.4" text-anchor="middle">concentration (µM)</text>
<text transform="translate(19.2 341.7) rotate(-90) scale(1 1.15)" font-size="6.35" text-anchor="middle">metabolic active cells (% of control)</text>
<text transform="translate(5.4 291.3) scale(1 1.1)" font-size="9">5</text>
<polyline points="60,315.8 69.9,315.8 93.1,315.8 100.9,318.1 104.5,319.9 111.7,332 126.7,364.5 140.1,379.5" fill="none" stroke="#2a2a2a" stroke-width="0.68" stroke-linejoin="round"/>
<polyline points="60,315.8 69.9,315.5 93.1,311.4 110.5,316.7 124.4,312.1 133.4,353.7 137,374.4 140.1,377.1 156.9,377.1" fill="none" stroke="#2a2a2a" stroke-width="0.68" stroke-linejoin="round"/>
<polyline points="60,315.8 69.9,316 93.1,315.8 105.3,319.5 124.4,327.5 133.4,318.5 137,314 140.6,318.8 156.9,362.7" fill="none" stroke="#2a2a2a" stroke-width="0.68" stroke-linejoin="round"/>
<polyline points="60,315.8 69.9,316 93.1,316 109.7,316.5 124.4,316.3 133.4,342.8 137,346.4 140.6,351 156.9,369" fill="none" stroke="#2a2a2a" stroke-width="0.68" stroke-linejoin="round"/>
<path d="M69.9 313V319" stroke="#999" stroke-width="0.65" fill="none"/><path d="M68.7 313.5H71.1M68.7 319.5H71.1" stroke="#444" stroke-width="0.8" fill="none"/>
<path d="M111.7 326.6V338.3" stroke="#999" stroke-width="0.65" fill="none"/><path d="M110.5 326.5H112.9M110.5 338.5H112.9" stroke="#444" stroke-width="0.8" fill="none"/>
<path d="M126.7 356.4V373.5" stroke="#999" stroke-width="0.65" fill="none"/><path d="M125.5 356.5H127.9M125.5 373.5H127.9" stroke="#444" stroke-width="0.8" fill="none"/>
<path d="M93.1 301V321" stroke="#999" stroke-width="0.65" fill="none"/><path d="M91.9 301.5H94.3M91.9 321.5H94.3" stroke="#444" stroke-width="0.8" fill="none"/>
<path d="M110.5 309.4V322" stroke="#999" stroke-width="0.65" fill="none"/><path d="M109.3 309.5H111.7M109.3 322.5H111.7" stroke="#444" stroke-width="0.8" fill="none"/>
<path d="M124.4 305V316.7" stroke="#999" stroke-width="0.65" fill="none"/><path d="M123.2 305.5H125.6M123.2 316.5H125.6" stroke="#444" stroke-width="0.8" fill="none"/>
<path d="M156.9 353.7V367.2" stroke="#999" stroke-width="0.65" fill="none"/><path d="M155.7 353.5H158.1M155.7 367.5H158.1" stroke="#444" stroke-width="0.8" fill="none"/>
<path d="M133.4 316V321" stroke="#999" stroke-width="0.65" fill="none"/><path d="M132.2 316.5H134.6M132.2 321.5H134.6" stroke="#444" stroke-width="0.8" fill="none"/>
<path d="M140.6 316.5V321" stroke="#999" stroke-width="0.65" fill="none"/><path d="M139.4 316.5H141.8M139.4 321.5H141.8" stroke="#444" stroke-width="0.8" fill="none"/>
<path d="M137 311.5V316" stroke="#999" stroke-width="0.65" fill="none"/><path d="M135.8 311.5H138.2M135.8 316.5H138.2" stroke="#444" stroke-width="0.8" fill="none"/>
<path d="M133.4 333V349" stroke="#999" stroke-width="0.65" fill="none"/><path d="M132.2 333.5H134.6M132.2 349.5H134.6" stroke="#444" stroke-width="0.8" fill="none"/>
<path d="M137 333.8V358.2" stroke="#999" stroke-width="0.65" fill="none"/><path d="M135.8 333.5H138.2M135.8 358.5H138.2" stroke="#444" stroke-width="0.8" fill="none"/>
<path d="M140.6 339.2V360.9" stroke="#999" stroke-width="0.65" fill="none"/><path d="M139.4 339.5H141.8M139.4 360.5H141.8" stroke="#444" stroke-width="0.8" fill="none"/>
<path d="M60 306.6V325.8" stroke="#999" stroke-width="0.65" fill="none"/><path d="M58.8 306.5H61.2M58.8 325.5H61.2" stroke="#444" stroke-width="0.8" fill="none"/>
<path d="M58.55 316.81H61.45L60 314.5Z" fill="#fff" stroke="#111" stroke-width="0.6"/>
<path d="M68.45 317.01H71.35L69.9 314.69Z" fill="#fff" stroke="#111" stroke-width="0.6"/>
<path d="M91.65 317.01H94.55L93.1 314.69Z" fill="#fff" stroke="#111" stroke-width="0.6"/>
<path d="M108.25 317.51H111.15L109.7 315.19Z" fill="#fff" stroke="#111" stroke-width="0.6"/>
<path d="M122.95 317.31H125.85L124.4 315Z" fill="#fff" stroke="#111" stroke-width="0.6"/>
<path d="M131.95 343.81H134.85L133.4 341.5Z" fill="#fff" stroke="#111" stroke-width="0.6"/>
<path d="M135.55 347.41H138.45L137 345.09Z" fill="#fff" stroke="#111" stroke-width="0.6"/>
<path d="M139.15 352.01H142.05L140.6 349.69Z" fill="#fff" stroke="#111" stroke-width="0.6"/>
<path d="M155.45 370.01H158.35L156.9 367.69Z" fill="#fff" stroke="#111" stroke-width="0.6"/>
<circle cx="60" cy="315.8" r="1.1" fill="#fff" stroke="#111" stroke-width="0.7"/>
<circle cx="69.9" cy="315.5" r="1.1" fill="#fff" stroke="#111" stroke-width="0.7"/>
<circle cx="93.1" cy="311.4" r="1.1" fill="#fff" stroke="#111" stroke-width="0.7"/>
<circle cx="110.5" cy="316.7" r="1.1" fill="#fff" stroke="#111" stroke-width="0.7"/>
<circle cx="124.4" cy="312.1" r="1.1" fill="#fff" stroke="#111" stroke-width="0.7"/>
<circle cx="133.4" cy="353.7" r="1.1" fill="#fff" stroke="#111" stroke-width="0.7"/>
<circle cx="137" cy="374.4" r="1.1" fill="#fff" stroke="#111" stroke-width="0.7"/>
<circle cx="140.1" cy="377.1" r="1.1" fill="#fff" stroke="#111" stroke-width="0.7"/>
<circle cx="156.9" cy="377.1" r="1.1" fill="#fff" stroke="#111" stroke-width="0.7"/>
<path d="M58.41 314.68H61.59L60 317.24Z" fill="#111"/>
<path d="M68.31 314.88H71.5L69.9 317.44Z" fill="#111"/>
<path d="M91.5 314.68H94.69L93.1 317.24Z" fill="#111"/>
<path d="M103.7 318.38H106.89L105.3 320.94Z" fill="#111"/>
<path d="M122.81 326.38H126L124.4 328.94Z" fill="#111"/>
<path d="M131.81 317.38H135L133.4 319.94Z" fill="#111"/>
<path d="M135.41 312.88H138.59L137 315.44Z" fill="#111"/>
<path d="M139 317.68H142.19L140.6 320.24Z" fill="#111"/>
<path d="M155.31 361.58H158.5L156.9 364.14Z" fill="#111"/>
<circle cx="60" cy="315.8" r="1.45" fill="#111"/>
<circle cx="69.9" cy="315.8" r="1.45" fill="#111"/>
<circle cx="93.1" cy="315.8" r="1.45" fill="#111"/>
<circle cx="100.9" cy="318.1" r="1.45" fill="#111"/>
<circle cx="104.5" cy="319.9" r="1.45" fill="#111"/>
<circle cx="111.7" cy="332" r="1.45" fill="#111"/>
<circle cx="126.7" cy="364.5" r="1.45" fill="#111"/>
<circle cx="140.1" cy="379.5" r="1.45" fill="#111"/>
<circle cx="60" cy="315.8" r="1.35" fill="#fff" stroke="#222" stroke-width="0.95"/></g>
<g style="--tw:0.15px"><line x1="232.5" y1="378.09" x2="375.3" y2="378.09" stroke="#d4d4d4" stroke-width="0.6" stroke-dasharray="1.2 0.8"/>
<rect x="232.5" y="289.8" width="142.8" height="103" fill="none" stroke="#888" stroke-width="1.2"/>
<line x1="231.2" y1="392.8" x2="233.1" y2="392.8" stroke="#222" stroke-width="0.8"/>
<text transform="translate(228.6 395.1) scale(1 1.2)" font-size="5.4" text-anchor="end">-20</text>
<line x1="231.2" y1="378.09" x2="233.1" y2="378.09" stroke="#222" stroke-width="0.8"/>
<text transform="translate(228.6 380.39) scale(1 1.2)" font-size="5.4" text-anchor="end">0</text>
<line x1="231.2" y1="363.37" x2="233.1" y2="363.37" stroke="#222" stroke-width="0.8"/>
<text transform="translate(228.6 365.67) scale(1 1.2)" font-size="5.4" text-anchor="end">20</text>
<line x1="231.2" y1="348.66" x2="233.1" y2="348.66" stroke="#222" stroke-width="0.8"/>
<text transform="translate(228.6 350.96) scale(1 1.2)" font-size="5.4" text-anchor="end">40</text>
<line x1="231.2" y1="333.94" x2="233.1" y2="333.94" stroke="#222" stroke-width="0.8"/>
<text transform="translate(228.6 336.24) scale(1 1.2)" font-size="5.4" text-anchor="end">60</text>
<line x1="231.2" y1="319.23" x2="233.1" y2="319.23" stroke="#222" stroke-width="0.8"/>
<text transform="translate(228.6 321.53) scale(1 1.2)" font-size="5.4" text-anchor="end">80</text>
<line x1="231.2" y1="304.51" x2="233.1" y2="304.51" stroke="#222" stroke-width="0.8"/>
<text transform="translate(228.6 306.81) scale(1 1.2)" font-size="5.4" text-anchor="end">100</text>
<line x1="231.2" y1="289.8" x2="233.1" y2="289.8" stroke="#222" stroke-width="0.8"/>
<text transform="translate(228.6 292.1) scale(1 1.2)" font-size="5.4" text-anchor="end">120</text>
<line x1="256.3" y1="392.2" x2="256.3" y2="394" stroke="#222" stroke-width="0.8"/>
<text transform="translate(256.3 400.8) scale(1 1.2)" font-size="5.5" text-anchor="middle">0</text>
<line x1="280.1" y1="392.2" x2="280.1" y2="394" stroke="#222" stroke-width="0.8"/>
<text transform="translate(280.1 400.8) scale(1 1.2)" font-size="5.5" text-anchor="middle">0.1</text>
<line x1="303.9" y1="392.2" x2="303.9" y2="394" stroke="#222" stroke-width="0.8"/>
<text transform="translate(303.9 400.8) scale(1 1.2)" font-size="5.5" text-anchor="middle">1</text>
<line x1="327.7" y1="392.2" x2="327.7" y2="394" stroke="#222" stroke-width="0.8"/>
<text transform="translate(327.7 400.8) scale(1 1.2)" font-size="5.5" text-anchor="middle">10</text>
<line x1="351.5" y1="392.2" x2="351.5" y2="394" stroke="#222" stroke-width="0.8"/>
<text transform="translate(351.5 400.8) scale(1 1.2)" font-size="5.5" text-anchor="middle">100</text>
<line x1="375.3" y1="392.2" x2="375.3" y2="394" stroke="#222" stroke-width="0.8"/>
<text transform="translate(372.1 400.8) scale(1 1.2)" font-size="5.5" text-anchor="middle">1000</text>
<text transform="translate(304.5 410.6) scale(1 1.08)" font-size="6.4" text-anchor="middle">concentration (µM)</text>
<text transform="translate(215.2 341) rotate(-90) scale(1 1.15)" font-size="5.65" text-anchor="middle">metabolic active cells (% of control)</text>
<text transform="translate(204 291.9) scale(1 1.1)" font-size="9.3">6</text>
<polyline points="256.1,304.8 266.5,304.1 290.3,315.6 297.5,362 301.6,372.3 308.9,376.4 314.6,377 324.3,377.5" fill="none" stroke="#2a2a2a" stroke-width="0.68" stroke-linejoin="round"/>
<polyline points="256.1,304.8 266.5,304.5 290.3,307 306.8,313.6 314.6,373.4 321.2,377.5 330.5,378" fill="none" stroke="#2a2a2a" stroke-width="0.68" stroke-linejoin="round"/>
<polyline points="256.1,304.8 266.5,304.5 290.3,304.9 306.8,303.7 314.6,302.8 318.1,316.6 321.2,362.6 330.5,380 337.7,374.4 354.2,377.1" fill="none" stroke="#2a2a2a" stroke-width="0.68" stroke-linejoin="round"/>
<polyline points="256.1,304.8 266.5,304.5 290.3,307 306.8,313.6 322.3,311.9 330.5,372.3 334,374.4 337.7,374.4 354.2,377.1" fill="none" stroke="#2a2a2a" stroke-width="0.68" stroke-linejoin="round"/>
<path d="M297.5 355.8V367.2" stroke="#999" stroke-width="0.65" fill="none"/><path d="M296.3 355.5H298.7M296.3 367.5H298.7" stroke="#444" stroke-width="0.8" fill="none"/>
<path d="M290.3 312V318" stroke="#999" stroke-width="0.65" fill="none"/><path d="M289.1 312.5H291.5M289.1 318.5H291.5" stroke="#444" stroke-width="0.8" fill="none"/>
<path d="M321.2 358V368" stroke="#999" stroke-width="0.65" fill="none"/><path d="M320 358.5H322.4M320 368.5H322.4" stroke="#444" stroke-width="0.8" fill="none"/>
<path d="M306.8 301.5V306" stroke="#999" stroke-width="0.65" fill="none"/><path d="M305.6 301.5H308M305.6 306.5H308" stroke="#444" stroke-width="0.8" fill="none"/>
<path d="M256.1 301V308.5" stroke="#999" stroke-width="0.65" fill="none"/><path d="M254.9 301.5H257.3M254.9 308.5H257.3" stroke="#444" stroke-width="0.8" fill="none"/>
<path d="M254.65 305.81H257.55L256.1 303.5Z" fill="#fff" stroke="#111" stroke-width="0.6"/>
<path d="M265.05 305.51H267.95L266.5 303.19Z" fill="#fff" stroke="#111" stroke-width="0.6"/>
<path d="M288.85 305.91H291.75L290.3 303.59Z" fill="#fff" stroke="#111" stroke-width="0.6"/>
<path d="M305.35 304.71H308.25L306.8 302.39Z" fill="#fff" stroke="#111" stroke-width="0.6"/>
<path d="M313.15 303.81H316.05L314.6 301.5Z" fill="#fff" stroke="#111" stroke-width="0.6"/>
<path d="M316.65 317.62H319.55L318.1 315.3Z" fill="#fff" stroke="#111" stroke-width="0.6"/>
<path d="M319.75 363.62H322.65L321.2 361.3Z" fill="#fff" stroke="#111" stroke-width="0.6"/>
<path d="M329.05 381.01H331.95L330.5 378.69Z" fill="#fff" stroke="#111" stroke-width="0.6"/>
<path d="M336.25 375.41H339.15L337.7 373.09Z" fill="#fff" stroke="#111" stroke-width="0.6"/>
<path d="M352.75 378.12H355.65L354.2 375.8Z" fill="#fff" stroke="#111" stroke-width="0.6"/>
<circle cx="256.1" cy="304.8" r="1.1" fill="#fff" stroke="#111" stroke-width="0.7"/>
<circle cx="266.5" cy="304.5" r="1.1" fill="#fff" stroke="#111" stroke-width="0.7"/>
<circle cx="290.3" cy="307" r="1.1" fill="#fff" stroke="#111" stroke-width="0.7"/>
<circle cx="306.8" cy="313.6" r="1.1" fill="#fff" stroke="#111" stroke-width="0.7"/>
<circle cx="314.6" cy="373.4" r="1.1" fill="#fff" stroke="#111" stroke-width="0.7"/>
<circle cx="321.2" cy="377.5" r="1.1" fill="#fff" stroke="#111" stroke-width="0.7"/>
<circle cx="330.5" cy="378" r="1.1" fill="#fff" stroke="#111" stroke-width="0.7"/>
<path d="M254.51 303.68H257.7L256.1 306.24Z" fill="#111"/>
<path d="M264.9 303.38H268.1L266.5 305.94Z" fill="#111"/>
<path d="M288.7 305.88H291.9L290.3 308.44Z" fill="#111"/>
<path d="M320.7 310.78H323.9L322.3 313.34Z" fill="#111"/>
<path d="M328.9 371.18H332.1L330.5 373.74Z" fill="#111"/>
<path d="M332.4 373.28H335.6L334 375.84Z" fill="#111"/>
<path d="M336.1 373.28H339.3L337.7 375.84Z" fill="#111"/>
<path d="M352.6 375.98H355.8L354.2 378.54Z" fill="#111"/>
<circle cx="256.1" cy="304.8" r="1.45" fill="#111"/>
<circle cx="266.5" cy="304.1" r="1.45" fill="#111"/>
<circle cx="290.3" cy="315.6" r="1.45" fill="#111"/>
<circle cx="297.5" cy="362" r="1.45" fill="#111"/>
<circle cx="301.6" cy="372.3" r="1.45" fill="#111"/>
<circle cx="308.9" cy="376.4" r="1.45" fill="#111"/>
<circle cx="314.6" cy="377" r="1.45" fill="#111"/>
<circle cx="324.3" cy="377.5" r="1.45" fill="#111"/>
<circle cx="256.1" cy="304.8" r="1.35" fill="#fff" stroke="#222" stroke-width="0.95"/></g>
<g style="--tw:0.15px"><line x1="37.4" y1="512.01" x2="178" y2="512.01" stroke="#d4d4d4" stroke-width="0.6" stroke-dasharray="1.2 0.8"/>
<rect x="37.4" y="425.7" width="140.6" height="100.7" fill="none" stroke="#888" stroke-width="1.2"/>
<line x1="36.1" y1="526.4" x2="38" y2="526.4" stroke="#222" stroke-width="0.8"/>
<text transform="translate(33.5 528.7) scale(1 1.2)" font-size="5.4" text-anchor="end">-20</text>
<line x1="36.1" y1="512.01" x2="38" y2="512.01" stroke="#222" stroke-width="0.8"/>
<text transform="translate(33.5 514.31) scale(1 1.2)" font-size="5.4" text-anchor="end">0</text>
<line x1="36.1" y1="497.63" x2="38" y2="497.63" stroke="#222" stroke-width="0.8"/>
<text transform="translate(33.5 499.93) scale(1 1.2)" font-size="5.4" text-anchor="end">20</text>
<line x1="36.1" y1="483.24" x2="38" y2="483.24" stroke="#222" stroke-width="0.8"/>
<text transform="translate(33.5 485.54) scale(1 1.2)" font-size="5.4" text-anchor="end">40</text>
<line x1="36.1" y1="468.86" x2="38" y2="468.86" stroke="#222" stroke-width="0.8"/>
<text transform="translate(33.5 471.16) scale(1 1.2)" font-size="5.4" text-anchor="end">60</text>
<line x1="36.1" y1="454.47" x2="38" y2="454.47" stroke="#222" stroke-width="0.8"/>
<text transform="translate(33.5 456.77) scale(1 1.2)" font-size="5.4" text-anchor="end">80</text>
<line x1="36.1" y1="440.09" x2="38" y2="440.09" stroke="#222" stroke-width="0.8"/>
<text transform="translate(33.5 442.39) scale(1 1.2)" font-size="5.4" text-anchor="end">100</text>
<line x1="36.1" y1="425.7" x2="38" y2="425.7" stroke="#222" stroke-width="0.8"/>
<text transform="translate(33.5 428) scale(1 1.2)" font-size="5.4" text-anchor="end">120</text>
<line x1="60.83" y1="525.8" x2="60.83" y2="527.6" stroke="#222" stroke-width="0.8"/>
<text transform="translate(60.83 535.3) scale(1 1.2)" font-size="5.35" text-anchor="middle">0</text>
<line x1="84.27" y1="525.8" x2="84.27" y2="527.6" stroke="#222" stroke-width="0.8"/>
<text transform="translate(84.27 535.3) scale(1 1.2)" font-size="5.35" text-anchor="middle">0.1</text>
<line x1="107.7" y1="525.8" x2="107.7" y2="527.6" stroke="#222" stroke-width="0.8"/>
<text transform="translate(107.7 535.3) scale(1 1.2)" font-size="5.35" text-anchor="middle">1</text>
<line x1="131.13" y1="525.8" x2="131.13" y2="527.6" stroke="#222" stroke-width="0.8"/>
<text transform="translate(131.13 535.3) scale(1 1.2)" font-size="5.35" text-anchor="middle">10</text>
<line x1="154.57" y1="525.8" x2="154.57" y2="527.6" stroke="#222" stroke-width="0.8"/>
<text transform="translate(154.57 535.3) scale(1 1.2)" font-size="5.35" text-anchor="middle">100</text>
<line x1="178" y1="525.8" x2="178" y2="527.6" stroke="#222" stroke-width="0.8"/>
<text transform="translate(177 535.3) scale(1 1.2)" font-size="5.35" text-anchor="middle">1000</text>
<text transform="translate(107.5 545) scale(1 1.08)" font-size="6.4" text-anchor="middle">concentration (µM)</text>
<text transform="translate(20.2 475.7) rotate(-90) scale(1 1.15)" font-size="6.3" text-anchor="middle">metabolic active cells (% of control)</text>
<text transform="translate(5.5 426.7) scale(1 1.1)" font-size="8.8" font-weight="bold">7</text>
<polyline points="60.1,439.8 71.3,439.1 95.2,446.1 102,452.7 106.1,466.1 113.1,485.3 128.1,510.1 142,510.1" fill="none" stroke="#2a2a2a" stroke-width="0.68" stroke-linejoin="round"/>
<polyline points="60.1,439.8 71.3,439.1 95.2,443.5 111.6,447 126.1,462 135,506.4 138.5,510.5 142,510.1 158,512.1" fill="none" stroke="#2a2a2a" stroke-width="0.68" stroke-linejoin="round"/>
<polyline points="60.1,439.8 71.3,439.1 95.2,438.7 111.6,442.8 126.1,443.5 135,437.9 138.5,441.4 142,444.1 158,437.3" fill="none" stroke="#2a2a2a" stroke-width="0.68" stroke-linejoin="round"/>
<polyline points="60.1,439.8 71.3,439.5 95.2,443.5 111.6,442.8 126.1,443.5 135,440 138.5,461 142,469.2 158,506.4 158,512.1" fill="none" stroke="#2a2a2a" stroke-width="0.68" stroke-linejoin="round"/>
<path d="M71.3 436.5V442" stroke="#999" stroke-width="0.65" fill="none"/><path d="M70.1 436.5H72.5M70.1 442.5H72.5" stroke="#444" stroke-width="0.8" fill="none"/>
<path d="M106.1 456.9V475.4" stroke="#999" stroke-width="0.65" fill="none"/><path d="M104.9 456.5H107.3M104.9 475.5H107.3" stroke="#444" stroke-width="0.8" fill="none"/>
<path d="M113.1 472.3V498.1" stroke="#999" stroke-width="0.65" fill="none"/><path d="M111.9 472.5H114.3M111.9 498.5H114.3" stroke="#444" stroke-width="0.8" fill="none"/>
<path d="M95.2 431V455.8" stroke="#999" stroke-width="0.65" fill="none"/><path d="M94 431.5H96.4M94 455.5H96.4" stroke="#444" stroke-width="0.8" fill="none"/>
<path d="M126.1 451.7V472.3" stroke="#999" stroke-width="0.65" fill="none"/><path d="M124.9 451.5H127.3M124.9 472.5H127.3" stroke="#444" stroke-width="0.8" fill="none"/>
<path d="M138.5 452.7V473.4" stroke="#999" stroke-width="0.65" fill="none"/><path d="M137.3 452.5H139.7M137.3 473.5H139.7" stroke="#444" stroke-width="0.8" fill="none"/>
<path d="M142 459V478.5" stroke="#999" stroke-width="0.65" fill="none"/><path d="M140.8 459.5H143.2M140.8 478.5H143.2" stroke="#444" stroke-width="0.8" fill="none"/>
<path d="M158 503V511" stroke="#999" stroke-width="0.65" fill="none"/><path d="M156.8 503.5H159.2M156.8 511.5H159.2" stroke="#444" stroke-width="0.8" fill="none"/>
<path d="M60.1 435.5V444" stroke="#999" stroke-width="0.65" fill="none"/><path d="M58.9 435.5H61.3M58.9 444.5H61.3" stroke="#444" stroke-width="0.8" fill="none"/>
<path d="M58.65 440.81H61.55L60.1 438.5Z" fill="#fff" stroke="#111" stroke-width="0.6"/>
<path d="M69.85 440.51H72.75L71.3 438.19Z" fill="#fff" stroke="#111" stroke-width="0.6"/>
<path d="M93.75 444.51H96.65L95.2 442.19Z" fill="#fff" stroke="#111" stroke-width="0.6"/>
<path d="M110.15 443.81H113.05L111.6 441.5Z" fill="#fff" stroke="#111" stroke-width="0.6"/>
<path d="M124.65 444.51H127.55L126.1 442.19Z" fill="#fff" stroke="#111" stroke-width="0.6"/>
<path d="M133.55 441.01H136.45L135 438.69Z" fill="#fff" stroke="#111" stroke-width="0.6"/>
<path d="M137.05 462.01H139.95L138.5 459.69Z" fill="#fff" stroke="#111" stroke-width="0.6"/>
<path d="M140.55 470.21H143.45L142 467.89Z" fill="#fff" stroke="#111" stroke-width="0.6"/>
<path d="M156.55 507.41H159.45L158 505.09Z" fill="#fff" stroke="#111" stroke-width="0.6"/>
<path d="M156.55 513.12H159.45L158 510.8Z" fill="#fff" stroke="#111" stroke-width="0.6"/>
<circle cx="60.1" cy="439.8" r="1.1" fill="#fff" stroke="#111" stroke-width="0.7"/>
<circle cx="71.3" cy="439.1" r="1.1" fill="#fff" stroke="#111" stroke-width="0.7"/>
<circle cx="95.2" cy="443.5" r="1.1" fill="#fff" stroke="#111" stroke-width="0.7"/>
<circle cx="111.6" cy="447" r="1.1" fill="#fff" stroke="#111" stroke-width="0.7"/>
<circle cx="126.1" cy="462" r="1.1" fill="#fff" stroke="#111" stroke-width="0.7"/>
<circle cx="135" cy="506.4" r="1.1" fill="#fff" stroke="#111" stroke-width="0.7"/>
<circle cx="138.5" cy="510.5" r="1.1" fill="#fff" stroke="#111" stroke-width="0.7"/>
<circle cx="142" cy="510.1" r="1.1" fill="#fff" stroke="#111" stroke-width="0.7"/>
<circle cx="158" cy="512.1" r="1.1" fill="#fff" stroke="#111" stroke-width="0.7"/>
<path d="M58.51 438.68H61.7L60.1 441.24Z" fill="#111"/>
<path d="M69.7 437.98H72.89L71.3 440.54Z" fill="#111"/>
<path d="M93.61 437.58H96.8L95.2 440.14Z" fill="#111"/>
<path d="M110 441.68H113.19L111.6 444.24Z" fill="#111"/>
<path d="M124.5 442.38H127.69L126.1 444.94Z" fill="#111"/>
<path d="M133.41 436.78H136.59L135 439.34Z" fill="#111"/>
<path d="M136.91 440.28H140.09L138.5 442.84Z" fill="#111"/>
<path d="M140.41 442.98H143.59L142 445.54Z" fill="#111"/>
<path d="M156.41 436.18H159.59L158 438.74Z" fill="#111"/>
<circle cx="60.1" cy="439.8" r="1.45" fill="#111"/>
<circle cx="71.3" cy="439.1" r="1.45" fill="#111"/>
<circle cx="95.2" cy="446.1" r="1.45" fill="#111"/>
<circle cx="102" cy="452.7" r="1.45" fill="#111"/>
<circle cx="106.1" cy="466.1" r="1.45" fill="#111"/>
<circle cx="113.1" cy="485.3" r="1.45" fill="#111"/>
<circle cx="128.1" cy="510.1" r="1.45" fill="#111"/>
<circle cx="142" cy="510.1" r="1.45" fill="#111"/>
<circle cx="60.1" cy="439.8" r="1.35" fill="#fff" stroke="#222" stroke-width="0.95"/></g>
<g style="--tw:0.15px"><line x1="234.9" y1="512.7" x2="376.8" y2="512.7" stroke="#d4d4d4" stroke-width="0.6" stroke-dasharray="1.2 0.8"/>
<rect x="234.9" y="426.9" width="141.9" height="100.1" fill="none" stroke="#888" stroke-width="1.2"/>
<line x1="233.6" y1="527" x2="235.5" y2="527" stroke="#222" stroke-width="0.8"/>
<text transform="translate(231 529.3) scale(1 1.2)" font-size="5.4" text-anchor="end">-20</text>
<line x1="233.6" y1="512.7" x2="235.5" y2="512.7" stroke="#222" stroke-width="0.8"/>
<text transform="translate(231 515) scale(1 1.2)" font-size="5.4" text-anchor="end">0</text>
<line x1="233.6" y1="498.4" x2="235.5" y2="498.4" stroke="#222" stroke-width="0.8"/>
<text transform="translate(231 500.7) scale(1 1.2)" font-size="5.4" text-anchor="end">20</text>
<line x1="233.6" y1="484.1" x2="235.5" y2="484.1" stroke="#222" stroke-width="0.8"/>
<text transform="translate(231 486.4) scale(1 1.2)" font-size="5.4" text-anchor="end">40</text>
<line x1="233.6" y1="469.8" x2="235.5" y2="469.8" stroke="#222" stroke-width="0.8"/>
<text transform="translate(231 472.1) scale(1 1.2)" font-size="5.4" text-anchor="end">60</text>
<line x1="233.6" y1="455.5" x2="235.5" y2="455.5" stroke="#222" stroke-width="0.8"/>
<text transform="translate(231 457.8) scale(1 1.2)" font-size="5.4" text-anchor="end">80</text>
<line x1="233.6" y1="441.2" x2="235.5" y2="441.2" stroke="#222" stroke-width="0.8"/>
<text transform="translate(231 443.5) scale(1 1.2)" font-size="5.4" text-anchor="end">100</text>
<line x1="233.6" y1="426.9" x2="235.5" y2="426.9" stroke="#222" stroke-width="0.8"/>
<text transform="translate(231 429.2) scale(1 1.2)" font-size="5.4" text-anchor="end">120</text>
<line x1="258.55" y1="526.4" x2="258.55" y2="528.2" stroke="#222" stroke-width="0.8"/>
<text transform="translate(258.55 535.3) scale(1 1.2)" font-size="5.45" text-anchor="middle">0</text>
<line x1="282.2" y1="526.4" x2="282.2" y2="528.2" stroke="#222" stroke-width="0.8"/>
<text transform="translate(282.2 535.3) scale(1 1.2)" font-size="5.45" text-anchor="middle">0.1</text>
<line x1="305.85" y1="526.4" x2="305.85" y2="528.2" stroke="#222" stroke-width="0.8"/>
<text transform="translate(305.85 535.3) scale(1 1.2)" font-size="5.45" text-anchor="middle">1</text>
<line x1="329.5" y1="526.4" x2="329.5" y2="528.2" stroke="#222" stroke-width="0.8"/>
<text transform="translate(329.5 535.3) scale(1 1.2)" font-size="5.45" text-anchor="middle">10</text>
<line x1="353.15" y1="526.4" x2="353.15" y2="528.2" stroke="#222" stroke-width="0.8"/>
<text transform="translate(353.15 535.3) scale(1 1.2)" font-size="5.45" text-anchor="middle">100</text>
<line x1="376.8" y1="526.4" x2="376.8" y2="528.2" stroke="#222" stroke-width="0.8"/>
<text transform="translate(374.3 535.3) scale(1 1.2)" font-size="5.45" text-anchor="middle">1000</text>
<text transform="translate(307.2 545) scale(1 1.08)" font-size="6.4" text-anchor="middle">concentration (µM)</text>
<text transform="translate(217.2 476.8) rotate(-90) scale(1 1.15)" font-size="6.4" text-anchor="middle">metabolic active cells (% of control)</text>
<text transform="translate(200.9 428.4) scale(1 1.1)" font-size="9.3" font-weight="bold">8</text>
<polyline points="258.2,440.7 268.1,440.5 292.3,444.8 299.1,443.4 303.2,449.6 310.2,470.8 325,510.9 332.1,510.9 339.4,511.2 355.8,511.7" fill="none" stroke="#2a2a2a" stroke-width="0.68" stroke-linejoin="round"/>
<polyline points="258.2,440.7 268.1,440.5 292.3,437.2 308.8,438.7 322.7,440.6 332.1,479 336.1,500 339.4,506.5 355.8,511.7" fill="none" stroke="#2a2a2a" stroke-width="0.68" stroke-linejoin="round"/>
<polyline points="258.2,440.7 268.1,436.8 292.3,439.9 308.8,442.8 322.7,453.8 332.1,510.9 339.4,511.2 355.8,511.7" fill="none" stroke="#2a2a2a" stroke-width="0.68" stroke-linejoin="round"/>
<polyline points="258.2,440.7 268.1,441 292.3,442.8 308.8,442.8 322.7,444 332.4,440.8 336.1,448.3 339.8,478 355.8,511.7" fill="none" stroke="#2a2a2a" stroke-width="0.68" stroke-linejoin="round"/>
<path d="M299.1 440.3V446.5" stroke="#999" stroke-width="0.65" fill="none"/><path d="M297.9 440.5H300.3M297.9 446.5H300.3" stroke="#444" stroke-width="0.8" fill="none"/>
<path d="M303.2 445.5V453.7" stroke="#999" stroke-width="0.65" fill="none"/><path d="M302 445.5H304.4M302 453.5H304.4" stroke="#444" stroke-width="0.8" fill="none"/>
<path d="M310.2 463V479.5" stroke="#999" stroke-width="0.65" fill="none"/><path d="M309 463.5H311.4M309 479.5H311.4" stroke="#444" stroke-width="0.8" fill="none"/>
<path d="M335.3 498V505" stroke="#999" stroke-width="0.65" fill="none"/><path d="M334.1 498.5H336.5M334.1 505.5H336.5" stroke="#444" stroke-width="0.8" fill="none"/>
<path d="M268.1 434V439.3" stroke="#999" stroke-width="0.65" fill="none"/><path d="M266.9 434.5H269.3M266.9 439.5H269.3" stroke="#444" stroke-width="0.8" fill="none"/>
<path d="M292.3 433.7V440.3" stroke="#999" stroke-width="0.65" fill="none"/><path d="M291.1 433.5H293.5M291.1 440.5H293.5" stroke="#444" stroke-width="0.8" fill="none"/>
<path d="M332.1 463V493.7" stroke="#999" stroke-width="0.65" fill="none"/><path d="M330.9 463.5H333.3M330.9 493.5H333.3" stroke="#444" stroke-width="0.8" fill="none"/>
<path d="M322.7 446.4V459.4" stroke="#999" stroke-width="0.65" fill="none"/><path d="M321.5 446.5H323.9M321.5 459.5H323.9" stroke="#444" stroke-width="0.8" fill="none"/>
<path d="M339.8 472.4V481.7" stroke="#999" stroke-width="0.65" fill="none"/><path d="M338.6 472.5H341M338.6 481.5H341" stroke="#444" stroke-width="0.8" fill="none"/>
<path d="M336.1 496V503" stroke="#999" stroke-width="0.65" fill="none"/><path d="M334.9 496.5H337.3M334.9 503.5H337.3" stroke="#444" stroke-width="0.8" fill="none"/>
<path d="M258.2 437.2V444.4" stroke="#999" stroke-width="0.65" fill="none"/><path d="M257 437.5H259.4M257 444.5H259.4" stroke="#444" stroke-width="0.8" fill="none"/>
<path d="M256.75 441.71H259.65L258.2 439.39Z" fill="#fff" stroke="#111" stroke-width="0.6"/>
<path d="M266.65 437.81H269.55L268.1 435.5Z" fill="#fff" stroke="#111" stroke-width="0.6"/>
<path d="M290.85 440.91H293.75L292.3 438.59Z" fill="#fff" stroke="#111" stroke-width="0.6"/>
<path d="M307.35 443.81H310.25L308.8 441.5Z" fill="#fff" stroke="#111" stroke-width="0.6"/>
<path d="M321.25 454.81H324.15L322.7 452.5Z" fill="#fff" stroke="#111" stroke-width="0.6"/>
<path d="M330.65 511.91H333.55L332.1 509.59Z" fill="#fff" stroke="#111" stroke-width="0.6"/>
<path d="M337.95 512.22H340.85L339.4 509.89Z" fill="#fff" stroke="#111" stroke-width="0.6"/>
<path d="M354.35 512.72H357.25L355.8 510.39Z" fill="#fff" stroke="#111" stroke-width="0.6"/>
<circle cx="258.2" cy="440.7" r="1.1" fill="#fff" stroke="#111" stroke-width="0.7"/>
<circle cx="268.1" cy="440.5" r="1.1" fill="#fff" stroke="#111" stroke-width="0.7"/>
<circle cx="292.3" cy="437.2" r="1.1" fill="#fff" stroke="#111" stroke-width="0.7"/>
<circle cx="308.8" cy="438.7" r="1.1" fill="#fff" stroke="#111" stroke-width="0.7"/>
<circle cx="322.7" cy="440.6" r="1.1" fill="#fff" stroke="#111" stroke-width="0.7"/>
<circle cx="332.1" cy="479" r="1.1" fill="#fff" stroke="#111" stroke-width="0.7"/>
<circle cx="336.1" cy="500" r="1.1" fill="#fff" stroke="#111" stroke-width="0.7"/>
<circle cx="339.4" cy="506.5" r="1.1" fill="#fff" stroke="#111" stroke-width="0.7"/>
<circle cx="355.8" cy="511.7" r="1.1" fill="#fff" stroke="#111" stroke-width="0.7"/>
<path d="M256.6 439.58H259.8L258.2 442.14Z" fill="#111"/>
<path d="M266.5 439.88H269.7L268.1 442.44Z" fill="#111"/>
<path d="M290.7 441.68H293.9L292.3 444.24Z" fill="#111"/>
<path d="M307.2 441.68H310.4L308.8 444.24Z" fill="#111"/>
<path d="M321.1 442.88H324.3L322.7 445.44Z" fill="#111"/>
<path d="M330.8 439.68H334L332.4 442.24Z" fill="#111"/>
<path d="M334.5 447.18H337.7L336.1 449.74Z" fill="#111"/>
<path d="M338.2 476.88H341.4L339.8 479.44Z" fill="#111"/>
<path d="M354.2 510.58H357.4L355.8 513.14Z" fill="#111"/>
<circle cx="258.2" cy="440.7" r="1.45" fill="#111"/>
<circle cx="268.1" cy="440.5" r="1.45" fill="#111"/>
<circle cx="292.3" cy="444.8" r="1.45" fill="#111"/>
<circle cx="299.1" cy="443.4" r="1.45" fill="#111"/>
<circle cx="303.2" cy="449.6" r="1.45" fill="#111"/>
<circle cx="310.2" cy="470.8" r="1.45" fill="#111"/>
<circle cx="325" cy="510.9" r="1.45" fill="#111"/>
<circle cx="332.1" cy="510.9" r="1.45" fill="#111"/>
<circle cx="339.4" cy="511.2" r="1.45" fill="#111"/>
<circle cx="355.8" cy="511.7" r="1.45" fill="#111"/>
<circle cx="258.2" cy="440.7" r="1.35" fill="#fff" stroke="#222" stroke-width="0.95"/></g>
</svg>
</body></html>
